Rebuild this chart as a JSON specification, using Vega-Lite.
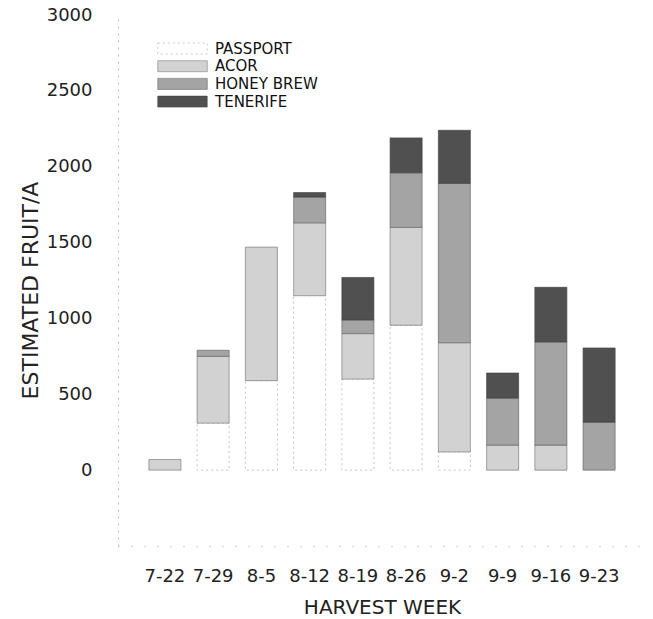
{
  "$schema": "https://vega.github.io/schema/vega-lite/v6.json",
  "width": 528,
  "height": 531,
  "autosize": "none",
  "padding": {"left": 118, "top": 15, "right": 7, "bottom": 73},
  "background": "white",
  "config": {
    "view": {"stroke": null},
    "font": "DejaVu Sans",
    "axis": {"grid": false, "ticks": false, "labelColor": "#222", "titleColor": "#222", "titleFontWeight": "normal", "labelFontSize": 18, "titleFontSize": 20}
  },
  "data": {
    "values": [
      {"week": "7-22", "variety": "PASSPORT", "ord": 1, "value": 0},
      {"week": "7-22", "variety": "ACOR", "ord": 2, "value": 70},
      {"week": "7-22", "variety": "HONEY BREW", "ord": 3, "value": 0},
      {"week": "7-22", "variety": "TENERIFE", "ord": 4, "value": 0},
      {"week": "7-29", "variety": "PASSPORT", "ord": 1, "value": 310},
      {"week": "7-29", "variety": "ACOR", "ord": 2, "value": 440},
      {"week": "7-29", "variety": "HONEY BREW", "ord": 3, "value": 40},
      {"week": "7-29", "variety": "TENERIFE", "ord": 4, "value": 0},
      {"week": "8-5", "variety": "PASSPORT", "ord": 1, "value": 590},
      {"week": "8-5", "variety": "ACOR", "ord": 2, "value": 880},
      {"week": "8-5", "variety": "HONEY BREW", "ord": 3, "value": 0},
      {"week": "8-5", "variety": "TENERIFE", "ord": 4, "value": 0},
      {"week": "8-12", "variety": "PASSPORT", "ord": 1, "value": 1150},
      {"week": "8-12", "variety": "ACOR", "ord": 2, "value": 480},
      {"week": "8-12", "variety": "HONEY BREW", "ord": 3, "value": 170},
      {"week": "8-12", "variety": "TENERIFE", "ord": 4, "value": 30},
      {"week": "8-19", "variety": "PASSPORT", "ord": 1, "value": 600},
      {"week": "8-19", "variety": "ACOR", "ord": 2, "value": 300},
      {"week": "8-19", "variety": "HONEY BREW", "ord": 3, "value": 90},
      {"week": "8-19", "variety": "TENERIFE", "ord": 4, "value": 280},
      {"week": "8-26", "variety": "PASSPORT", "ord": 1, "value": 955},
      {"week": "8-26", "variety": "ACOR", "ord": 2, "value": 645},
      {"week": "8-26", "variety": "HONEY BREW", "ord": 3, "value": 360},
      {"week": "8-26", "variety": "TENERIFE", "ord": 4, "value": 230},
      {"week": "9-2", "variety": "PASSPORT", "ord": 1, "value": 120},
      {"week": "9-2", "variety": "ACOR", "ord": 2, "value": 720},
      {"week": "9-2", "variety": "HONEY BREW", "ord": 3, "value": 1050},
      {"week": "9-2", "variety": "TENERIFE", "ord": 4, "value": 350},
      {"week": "9-9", "variety": "PASSPORT", "ord": 1, "value": 0},
      {"week": "9-9", "variety": "ACOR", "ord": 2, "value": 165},
      {"week": "9-9", "variety": "HONEY BREW", "ord": 3, "value": 310},
      {"week": "9-9", "variety": "TENERIFE", "ord": 4, "value": 165},
      {"week": "9-16", "variety": "PASSPORT", "ord": 1, "value": 0},
      {"week": "9-16", "variety": "ACOR", "ord": 2, "value": 165},
      {"week": "9-16", "variety": "HONEY BREW", "ord": 3, "value": 680},
      {"week": "9-16", "variety": "TENERIFE", "ord": 4, "value": 360},
      {"week": "9-23", "variety": "PASSPORT", "ord": 1, "value": 0},
      {"week": "9-23", "variety": "ACOR", "ord": 2, "value": 0},
      {"week": "9-23", "variety": "HONEY BREW", "ord": 3, "value": 316},
      {"week": "9-23", "variety": "TENERIFE", "ord": 4, "value": 489}
    ]
  },
  "transform": [{"filter": "datum.value > 0"}],
  "mark": {"type": "bar", "strokeWidth": 0.7},
  "encoding": {
    "x": {
      "field": "week", "type": "ordinal", "sort": ["7-22", "7-29", "8-5", "8-12", "8-19", "8-26", "9-2", "9-9", "9-16", "9-23"],
      "scale": {"paddingInner": 0.336, "paddingOuter": 0.64},
      "axis": {"title": "HARVEST WEEK", "labelAngle": 0, "labelPadding": 21, "titleY": 61, "titleBaseline": "middle", "domainColor": "#bbb", "domainDash": [1, 12], "domainWidth": 1.5}
    },
    "y": {
      "field": "value", "type": "quantitative", "stack": "zero",
      "scale": {"domain": [-500, 3000], "nice": false, "zero": false},
      "axis": {"title": "ESTIMATED FRUIT/A", "format": "d", "titleFontSize": 22, "values": [0, 500, 1000, 1500, 2000, 2500, 3000], "labelPadding": 26, "titleX": -88, "titleY": 275, "titleBaseline": "middle", "titleAlign": "center", "titleAngle": -90, "domainColor": "#bbb", "domainDash": [2, 5]}
    },
    "fill": {
      "field": "variety", "type": "nominal",
      "scale": {"domain": ["PASSPORT", "ACOR", "HONEY BREW", "TENERIFE"], "range": ["#ffffff", "#d2d2d2", "#a4a4a4", "#505050"]},
      "legend": {
        "title": null, "orient": "none", "legendX": 57, "legendY": 26,
        "symbolType": "M-4.5,-1H4.5V1H-4.5Z", "symbolSize": 121,
        "symbolStrokeColor": "#999", "symbolStrokeWidth": 0.6,
        "labelFontSize": 15, "labelColor": "#111", "labelOffset": 25, "rowPadding": 1.7
      }
    },
    "stroke": {
      "field": "variety", "type": "nominal",
      "scale": {"domain": ["PASSPORT", "ACOR", "HONEY BREW", "TENERIFE"], "range": ["#aaaaaa", "#777777", "#666666", "#444444"]},
      "legend": null
    },
    "strokeDash": {
      "field": "variety", "type": "nominal",
      "scale": {"domain": ["PASSPORT", "ACOR", "HONEY BREW", "TENERIFE"], "range": [[2, 3], [1, 0], [1, 0], [1, 0]]},
      "legend": null
    },
    "order": {"field": "ord", "type": "quantitative"}
  }
}
